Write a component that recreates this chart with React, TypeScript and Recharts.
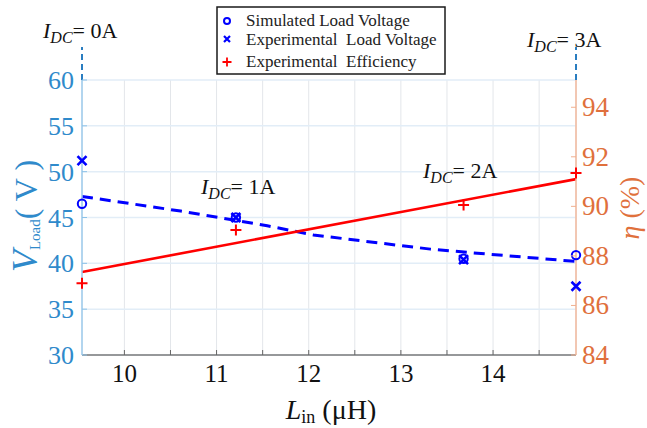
import React from "react";
import { ComposedChart, Line, Scatter, XAxis, YAxis, CartesianGrid, ReferenceLine } from "recharts";

// L_in (uH) at I_DC = 0, 1, 2, 3 A
const inductance = [9.54, 11.21, 13.68, 14.9];
const simulatedVoltage = [46.5, 45.0, 40.5, 40.9];
const experimentalVoltage = [51.2, 45.0, 40.4, 37.5];
const experimentalEfficiency = [86.9, 89.05, 90.05, 91.35];

// fitted curves
const voltageFitL = [9.54, 10.61, 11.55, 12.05, 12.78, 13.32, 13.83, 14.9];
const voltageFit = [47.3, 45.7, 44.1, 43.1, 42.2, 41.55, 41.1, 40.2];
const efficiencyFitL = [9.54, 14.9];
const efficiencyFit = [87.35, 91.1];

const xTicks = [10, 10.5, 11, 11.5, 12, 12.5, 13, 13.5, 14, 14.5];
const leftTicks = [30, 35, 40, 45, 50, 55, 60];
const rightTicks = [84, 86, 88, 90, 92, 94];

const serif = "'Liberation Serif', 'Times New Roman', serif";
const leftColor = "#2f8acb";
const rightColor = "#e0703c";

const pts = (xs: number[], ys: number[]) => xs.map((x, i) => ({ x, y: ys[i] }));

const XTick = (props: any) => {
  const { x, y, payload } = props;
  const v = payload.value;
  return (
    <g>
      <line x1={x} x2={x} y1={y} y2={y - 5} stroke="#666" strokeWidth={1} />
      {Number.isInteger(v) && (
        <text x={x} y={y + 27} textAnchor="middle" fontSize={25} fill="#111" fontFamily={serif}>
          {v}
        </text>
      )}
    </g>
  );
};

const LeftTick = (props: any) => {
  const { x, y, payload } = props;
  return (
    <g>
      <line x1={x} x2={x + 5} y1={y} y2={y} stroke="#8cc2e8" strokeWidth={1} />
      <text x={x - 8} y={y + 9} textAnchor="end" fontSize={26} fill={leftColor} fontFamily={serif}>
        {payload.value}
      </text>
    </g>
  );
};

const RightTick = (props: any) => {
  const { x, y, payload } = props;
  return (
    <g>
      <line x1={x} x2={x - 5} y1={y} y2={y} stroke="#f0b090" strokeWidth={1} />
      <text x={x + 6} y={y + 9} textAnchor="start" fontSize={27} fill={rightColor} fontFamily={serif}>
        {payload.value}
      </text>
    </g>
  );
};

const CircleMark = (p: any) => (
  <circle cx={p.cx} cy={p.cy} r={4.2} fill="none" stroke="#0000ff" strokeWidth={2} />
);
const CrossMark = (p: any) => (
  <path d={`M${p.cx - 4.5},${p.cy - 4.5}L${p.cx + 4.5},${p.cy + 4.5}M${p.cx - 4.5},${p.cy + 4.5}L${p.cx + 4.5},${p.cy - 4.5}`} stroke="#0000ff" strokeWidth={2.6} />
);
const PlusMark = (p: any) => (
  <path d={`M${p.cx - 5.5},${p.cy}L${p.cx + 5.5},${p.cy}M${p.cx},${p.cy - 5.5}L${p.cx},${p.cy + 5.5}`} stroke="#ff0000" strokeWidth={2} />
);

const IdcLabel = ({ x, y, value }: { x: number; y: number; value: string }) => (
  <text x={x} y={y} fontSize={22} fill="#111" fontFamily={serif}>
    <tspan fontStyle="italic">I</tspan>
    <tspan fontStyle="italic" fontSize={16} dy={5}>DC</tspan>
    <tspan dy={-5}>{`= ${value}`}</tspan>
  </text>
);

export default function App() {
  return (
    <div style={{ position: "absolute", left: 0, top: 0, width: 647, height: 428, background: "#fff" }}>
      <ComposedChart width={647} height={428} margin={{ top: 80, right: 0, bottom: 0, left: 0 }}>
        <CartesianGrid yAxisId="left" horizontal={false} stroke="#e3e6ea" strokeWidth={1} />
        <CartesianGrid yAxisId="left" vertical={false} stroke="#e2edf7" strokeWidth={1.5} />
        <XAxis
          type="number"
          dataKey="x"
          domain={[9.54, 14.9]}
          ticks={xTicks}
          height={73}
          tickSize={0}
          tickMargin={0}
          tick={<XTick />}
          axisLine={{ stroke: "#7a7a7a", strokeWidth: 1.5 }}
        />
        <YAxis
          yAxisId="left"
          domain={[30, 60]}
          ticks={leftTicks}
          width={82}
          tickSize={0}
          tickMargin={0}
          tick={<LeftTick />}
          axisLine={{ stroke: "#9ccbec", strokeWidth: 1.5 }}
        />
        <YAxis
          yAxisId="right"
          orientation="right"
          domain={[84, 95.1]}
          ticks={rightTicks}
          width={71}
          tickSize={0}
          tickMargin={0}
          tick={<RightTick />}
          axisLine={{ stroke: "#f2b89c", strokeWidth: 1.5 }}
        />
        <ReferenceLine
          yAxisId="left"
          segment={[{ x: 9.54, y: 60 }, { x: 9.54, y: 63.6 }]}
          ifOverflow="visible"
          stroke="#2a7dc0"
          strokeWidth={2}
          strokeDasharray="6 4"
        />
        <ReferenceLine
          yAxisId="left"
          segment={[{ x: 14.9, y: 60 }, { x: 14.9, y: 63.6 }]}
          ifOverflow="visible"
          stroke="#2a7dc0"
          strokeWidth={2}
          strokeDasharray="6 4"
        />
        <Line
          yAxisId="left"
          data={pts(voltageFitL, voltageFit)}
          dataKey="y"
          type="linear"
          stroke="#0000ff"
          strokeWidth={3}
          strokeDasharray="11 7"
          dot={false}
          isAnimationActive={false}
        />
        <Line
          yAxisId="right"
          data={pts(efficiencyFitL, efficiencyFit)}
          dataKey="y"
          type="linear"
          stroke="#ff0000"
          strokeWidth={2.6}
          dot={false}
          isAnimationActive={false}
        />
        <Scatter yAxisId="left" data={pts(inductance, simulatedVoltage)} dataKey="y" shape={<CircleMark />} isAnimationActive={false} />
        <Scatter yAxisId="left" data={pts(inductance, experimentalVoltage)} dataKey="y" shape={<CrossMark />} isAnimationActive={false} />
        <Scatter yAxisId="right" data={pts(inductance, experimentalEfficiency)} dataKey="y" shape={<PlusMark />} isAnimationActive={false} />
      </ComposedChart>

      <svg width={647} height={428} style={{ position: "absolute", left: 0, top: 0, pointerEvents: "none" }}>
        <IdcLabel x={43} y={38} value="0A" />
        <IdcLabel x={527} y={47} value="3A" />
        <IdcLabel x={201} y={194} value="1A" />
        <IdcLabel x={423} y={178} value="2A" />

        <rect x={217} y={7} width={228} height={67} fill="#fff" stroke="#1a1a1a" strokeWidth={1.5} />
        <circle cx={227} cy={21} r={3} fill="none" stroke="#0000ff" strokeWidth={2} />
        <path d="M224,36L230,42M224,42L230,36" stroke="#0000ff" strokeWidth={2.2} />
        <path d="M222.5,62H231.5M227,57.5V66.5" stroke="#ff0000" strokeWidth={1.8} />
        <g fontFamily={serif} fontSize={17} fill="#222">
          <text x={246} y={26}>Simulated Load Voltage</text>
          <text x={246} y={45}>{"Experimental\u00a0 Load Voltage"}</text>
          <text x={246} y={67}>{"Experimental\u00a0 Efficiency"}</text>
        </g>

        <text x={331} y={419} textAnchor="middle" fontSize={28} fill="#111" fontFamily={serif}>
          <tspan fontStyle="italic">L</tspan>
          <tspan fontSize={18} dy={4}>in</tspan>
          <tspan dy={-4}> (μH)</tspan>
        </text>

        <text transform="translate(37,216) rotate(-90)" textAnchor="middle" fontSize={32} fill={leftColor} fontFamily={serif}>
          <tspan fontStyle="italic" fontSize={36}>V</tspan>
          <tspan fontSize={15} dy={3}>Load</tspan>
          <tspan dy={-3}>( V )</tspan>
        </text>

        <text transform="translate(639,208) rotate(-90)" textAnchor="middle" fontSize={28} fill={rightColor} fontFamily={serif}>
          <tspan fontStyle="italic">η</tspan>
          <tspan> (%)</tspan>
        </text>
      </svg>
    </div>
  );
}
